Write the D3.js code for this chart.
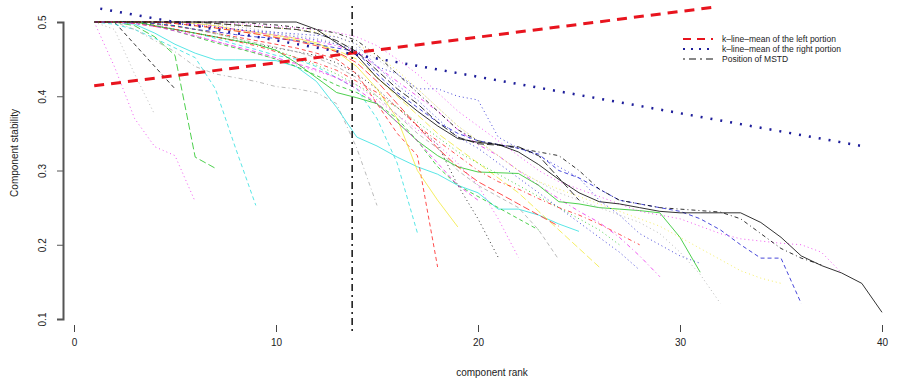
<!DOCTYPE html>
<html>
<head>
<meta charset="utf-8">
<script src="https://cdn.jsdelivr.net/npm/d3@7"></script>
<style>
  body { margin: 0; background: #fff; }
  text { font-family: "Liberation Sans", Arial, sans-serif; fill: #222; }
</style>
</head>
<body>
<div id="chart"></div>
<script>
// stability curves, value at rank 1, 2, 3, ...
const s01 = [0.500, 0.440, 0.370, 0.332, 0.320, 0.258];
const s02 = [0.500, 0.490, 0.430, 0.375];
const s03 = [0.500, 0.500, 0.470, 0.440, 0.410];
const s04 = [0.500, 0.500, 0.495, 0.480, 0.455, 0.318, 0.303];
const s05 = [0.500, 0.497, 0.490, 0.478, 0.465, 0.452, 0.410, 0.330, 0.253];
const s06 = [0.500, 0.500, 0.490, 0.475, 0.460, 0.440, 0.430, 0.425, 0.420, 0.413, 0.410, 0.405, 0.390, 0.330, 0.253];
const s07 = [0.500, 0.500, 0.497, 0.485, 0.470, 0.458, 0.449, 0.449, 0.449, 0.448, 0.440, 0.420, 0.385, 0.345, 0.333, 0.318, 0.305, 0.295, 0.280, 0.270, 0.248, 0.248, 0.240, 0.228, 0.218];
const s08 = [0.500, 0.500, 0.500, 0.497, 0.494, 0.490, 0.485, 0.480, 0.475, 0.470, 0.465, 0.458, 0.450, 0.430, 0.390, 0.350, 0.320, 0.170];
const s09 = [0.500, 0.500, 0.498, 0.495, 0.490, 0.485, 0.478, 0.470, 0.463, 0.455, 0.450, 0.440, 0.425, 0.410, 0.370, 0.310, 0.216];
const s10 = [0.500, 0.500, 0.500, 0.500, 0.500, 0.498, 0.495, 0.490, 0.486, 0.482, 0.478, 0.472, 0.460, 0.440, 0.410, 0.370, 0.300, 0.260, 0.224];
const s11 = [0.500, 0.500, 0.500, 0.495, 0.490, 0.485, 0.480, 0.475, 0.470, 0.465, 0.460, 0.455, 0.445, 0.430, 0.410, 0.385, 0.360, 0.335, 0.280, 0.235, 0.183];
const s12 = [0.500, 0.500, 0.500, 0.498, 0.490, 0.482, 0.474, 0.466, 0.458, 0.450, 0.442, 0.434, 0.425, 0.415, 0.395, 0.375, 0.355, 0.335, 0.310, 0.280, 0.235, 0.183];
const s13 = [0.500, 0.500, 0.500, 0.498, 0.495, 0.490, 0.484, 0.478, 0.472, 0.466, 0.460, 0.452, 0.440, 0.425, 0.400, 0.375, 0.350, 0.330, 0.300, 0.280, 0.265, 0.250, 0.220, 0.180];
const s14 = [0.500, 0.500, 0.500, 0.495, 0.488, 0.480, 0.472, 0.465, 0.458, 0.450, 0.440, 0.428, 0.415, 0.405, 0.390, 0.370, 0.340, 0.305, 0.280, 0.265, 0.250, 0.235, 0.220];
const s15 = [0.500, 0.500, 0.500, 0.500, 0.498, 0.495, 0.492, 0.488, 0.484, 0.480, 0.476, 0.470, 0.462, 0.450, 0.425, 0.400, 0.375, 0.350, 0.330, 0.310, 0.290, 0.270, 0.245, 0.220, 0.195, 0.170];
const s16 = [0.500, 0.500, 0.500, 0.500, 0.498, 0.496, 0.493, 0.490, 0.487, 0.484, 0.480, 0.476, 0.470, 0.462, 0.440, 0.415, 0.395, 0.370, 0.345, 0.330, 0.310, 0.290, 0.270, 0.250, 0.230, 0.210, 0.190, 0.166];
const s17 = [0.500, 0.500, 0.500, 0.500, 0.500, 0.497, 0.494, 0.490, 0.486, 0.482, 0.478, 0.474, 0.468, 0.460, 0.440, 0.420, 0.400, 0.380, 0.355, 0.335, 0.320, 0.300, 0.280, 0.262, 0.245, 0.230, 0.210, 0.185, 0.157];
const s18 = [0.500, 0.500, 0.500, 0.495, 0.490, 0.485, 0.480, 0.475, 0.470, 0.462, 0.445, 0.425, 0.405, 0.398, 0.390, 0.365, 0.340, 0.320, 0.305, 0.298, 0.297, 0.296, 0.280, 0.258, 0.255, 0.250, 0.248, 0.246, 0.243, 0.210, 0.163];
const s19 = [0.500, 0.500, 0.500, 0.500, 0.500, 0.498, 0.496, 0.494, 0.490, 0.486, 0.482, 0.478, 0.472, 0.465, 0.450, 0.430, 0.410, 0.385, 0.360, 0.340, 0.320, 0.300, 0.285, 0.270, 0.260, 0.250, 0.240, 0.230, 0.215, 0.190, 0.160, 0.121];
const s20 = [0.500, 0.500, 0.500, 0.500, 0.500, 0.500, 0.498, 0.496, 0.494, 0.492, 0.490, 0.487, 0.480, 0.470, 0.455, 0.435, 0.410, 0.385, 0.360, 0.340, 0.320, 0.300, 0.285, 0.275, 0.265, 0.255, 0.245, 0.235, 0.225, 0.210, 0.195, 0.180, 0.165, 0.155, 0.148];
const s21 = [0.500, 0.500, 0.500, 0.498, 0.495, 0.490, 0.487, 0.483, 0.480, 0.478, 0.475, 0.470, 0.465, 0.460, 0.430, 0.405, 0.385, 0.365, 0.350, 0.340, 0.335, 0.330, 0.322, 0.300, 0.290, 0.275, 0.260, 0.255, 0.250, 0.245, 0.235, 0.220, 0.200, 0.182, 0.182, 0.121];
const s22 = [0.500, 0.500, 0.500, 0.500, 0.500, 0.500, 0.500, 0.498, 0.496, 0.494, 0.492, 0.490, 0.486, 0.480, 0.468, 0.450, 0.430, 0.405, 0.380, 0.360, 0.340, 0.320, 0.300, 0.285, 0.275, 0.265, 0.255, 0.245, 0.240, 0.235, 0.225, 0.215, 0.208, 0.205, 0.202, 0.200, 0.190, 0.162];
const s23 = [0.500, 0.500, 0.500, 0.500, 0.500, 0.500, 0.500, 0.500, 0.500, 0.500, 0.500, 0.490, 0.472, 0.455, 0.425, 0.402, 0.380, 0.360, 0.343, 0.338, 0.335, 0.325, 0.308, 0.288, 0.270, 0.258, 0.255, 0.250, 0.245, 0.243, 0.243, 0.243, 0.243, 0.230, 0.210, 0.185, 0.172, 0.162, 0.148, 0.109];
const s24 = [0.500, 0.500, 0.500, 0.500, 0.500, 0.500, 0.500, 0.500, 0.498, 0.496, 0.493, 0.490, 0.485, 0.475, 0.455, 0.430, 0.405, 0.380, 0.355, 0.340, 0.335, 0.330, 0.325, 0.320, 0.300, 0.275, 0.260, 0.255, 0.250, 0.248, 0.246, 0.244, 0.235, 0.215, 0.195, 0.182, 0.173];
const s25 = [0.500, 0.500, 0.500, 0.500, 0.498, 0.495, 0.493, 0.490, 0.488, 0.486, 0.484, 0.482, 0.480, 0.470, 0.440, 0.430, 0.410, 0.410, 0.400, 0.395, 0.345, 0.330, 0.320, 0.305, 0.290, 0.260, 0.240, 0.215, 0.200, 0.185, 0.175];
const s26 = [0.500, 0.500, 0.498, 0.494, 0.490, 0.485, 0.480, 0.474, 0.468, 0.460, 0.452, 0.445, 0.435, 0.420, 0.405, 0.385, 0.360, 0.340, 0.320, 0.300, 0.285, 0.275, 0.262, 0.250, 0.240, 0.228, 0.214, 0.200];
const s27 = [0.500, 0.500, 0.500, 0.500, 0.498, 0.495, 0.492, 0.488, 0.484, 0.479, 0.474, 0.468, 0.460, 0.445, 0.420, 0.390, 0.360, 0.330, 0.305, 0.285, 0.270, 0.255, 0.240, 0.225];
const s28 = [0.500, 0.500, 0.498, 0.494, 0.488, 0.481, 0.474, 0.467, 0.460, 0.452, 0.444, 0.436, 0.425, 0.410, 0.390, 0.365, 0.340, 0.310, 0.280, 0.260];
const s29 = [0.500, 0.500, 0.500, 0.500, 0.500, 0.500, 0.498, 0.496, 0.494, 0.492, 0.490, 0.485, 0.475, 0.460, 0.435, 0.410, 0.390, 0.365, 0.345, 0.336, 0.334, 0.332, 0.320, 0.290, 0.260];
const s30 = [0.500, 0.500, 0.500, 0.498, 0.495, 0.490, 0.485, 0.478, 0.470, 0.462, 0.452, 0.442, 0.430, 0.415, 0.400, 0.385, 0.365, 0.345, 0.325, 0.310, 0.295, 0.280, 0.265, 0.250, 0.235, 0.220, 0.200];

const allSeries = [s01, s02, s03, s04, s05, s06, s07, s08, s09, s10, s11, s12, s13, s14, s15,
                   s16, s17, s18, s19, s20, s21, s22, s23, s24, s25, s26, s27, s28, s29, s30];

// R palette colour name and line type for each curve
const seriesCol = ["magenta", "gray", "black", "green", "cyan", "gray", "cyan", "red", "cyan", "yellow",
                   "black", "magenta", "gray", "green", "yellow", "blue", "magenta", "green", "gray", "yellow",
                   "blue", "magenta", "black", "black", "blue", "red", "red", "magenta", "black", "green"];
const seriesLty = [3, 3, 2, 5, 2, 4, 1, 2, 2, 1,
                   3, 3, 2, 2, 5, 3, 4, 1, 3, 3,
                   2, 3, 1, 4, 3, 4, 5, 2, 5, 3];

// reference lines
const leftMeanX = [1, 31.7];
const leftMeanY = [0.414, 0.520];
const rightMeanX = [1.3, 39];
const rightMeanY = [0.518, 0.333];
const mstdRank = 13.77;

const xTicks = [0, 10, 20, 30, 40];
const yTicks = [0.1, 0.2, 0.3, 0.4, 0.5];
const legendLabels = ["k\u2013line\u2013mean of the left portion", "k\u2013line\u2013mean of the right portion", "Position of MSTD"];

const palette = {
  black: "#000000", red: "#ff2020", green: "#22c422", blue: "#1a1ad0",
  cyan: "#2fe0e0", magenta: "#ee30ee", yellow: "#f2ea3a", gray: "#aaaaaa"
};
const dashes = { 1: null, 2: "4,3", 3: "1,3", 4: "1,3,4,3", 5: "7,3", 6: "2,2,6,2" };

const width = 905, height = 383;

const svg = d3.select("#chart").append("svg")
  .attr("width", width)
  .attr("height", height);

const x = d3.scaleLinear().domain([0, 40]).range([74, 882]);
const y = d3.scaleLinear().domain([0.1, 0.5]).range([319, 22]);

const line = d3.line()
  .x((d, i) => x(i + 1))
  .y(d => y(d));

// curves
svg.append("g")
  .selectAll("path")
  .data(allSeries)
  .enter()
  .append("path")
  .attr("d", line)
  .attr("fill", "none")
  .attr("stroke", (d, i) => palette[seriesCol[i]])
  .attr("stroke-width", 1)
  .attr("stroke-opacity", 0.8)
  .attr("stroke-dasharray", (d, i) => dashes[seriesLty[i]]);

// k-line means
const straight = d3.line().x(d => x(d[0])).y(d => y(d[1]));

svg.append("path")
  .attr("d", straight(d3.zip(leftMeanX, leftMeanY)))
  .attr("fill", "none")
  .attr("stroke", "#e8141e")
  .attr("stroke-width", 3)
  .attr("stroke-dasharray", "10,7");

svg.append("path")
  .attr("d", straight(d3.zip(rightMeanX, rightMeanY)))
  .attr("fill", "none")
  .attr("stroke", "#1d1d9a")
  .attr("stroke-width", 2.5)
  .attr("stroke-dasharray", "2,8");

// MSTD position
svg.append("line")
  .attr("x1", x(mstdRank)).attr("x2", x(mstdRank))
  .attr("y1", 6).attr("y2", 331)
  .attr("stroke", "#111")
  .attr("stroke-width", 1.5)
  .attr("stroke-dasharray", "2,4,7,4");

// axes
const yAxis = svg.append("g")
  .attr("transform", "translate(63,0)")
  .call(d3.axisLeft(y).tickValues(yTicks).tickFormat(d3.format(".1f")).tickSize(6));
yAxis.select(".domain").attr("stroke", "#555").attr("stroke-width", 2);
yAxis.selectAll(".tick line").attr("stroke", "#555");
yAxis.selectAll(".tick text")
  .attr("font-size", 10)
  .attr("text-anchor", "middle")
  .attr("x", null)
  .attr("transform", "translate(-21,0) rotate(-90)")
  .attr("dy", "0.35em");

const xAxis = svg.append("g")
  .attr("transform", "translate(0,325)")
  .call(d3.axisBottom(x).tickValues(xTicks).tickSize(7).tickPadding(7));
xAxis.select(".domain").remove();
xAxis.selectAll(".tick line").attr("stroke", "#444");
xAxis.selectAll(".tick text").attr("font-size", 10);

// axis titles
svg.append("text")
  .attr("x", 492)
  .attr("y", 376)
  .attr("text-anchor", "middle")
  .attr("font-size", 10)
  .text("component rank");

svg.append("text")
  .attr("transform", "translate(18,153) rotate(-90)")
  .attr("text-anchor", "middle")
  .attr("font-size", 10)
  .text("Component stability");

// legend
const legendStyle = [
  { col: "#e8141e", w: 2, dash: "8,6" },
  { col: "#1d1d9a", w: 2, dash: "2,6" },
  { col: "#111", w: 1.2, dash: "2,4,7,4" }
];
const legend = svg.append("g").attr("transform", "translate(683,39)");
legend.selectAll("line")
  .data(legendLabels)
  .enter()
  .append("line")
  .attr("x1", 0).attr("x2", 30)
  .attr("y1", (d, i) => i * 10).attr("y2", (d, i) => i * 10)
  .attr("stroke", (d, i) => legendStyle[i].col)
  .attr("stroke-width", (d, i) => legendStyle[i].w)
  .attr("stroke-dasharray", (d, i) => legendStyle[i].dash);
legend.selectAll("text")
  .data(legendLabels)
  .enter()
  .append("text")
  .attr("x", 39)
  .attr("y", (d, i) => i * 10)
  .attr("dy", "0.35em")
  .attr("font-size", 8.5)
  .text(d => d);
</script>
</body>
</html>
